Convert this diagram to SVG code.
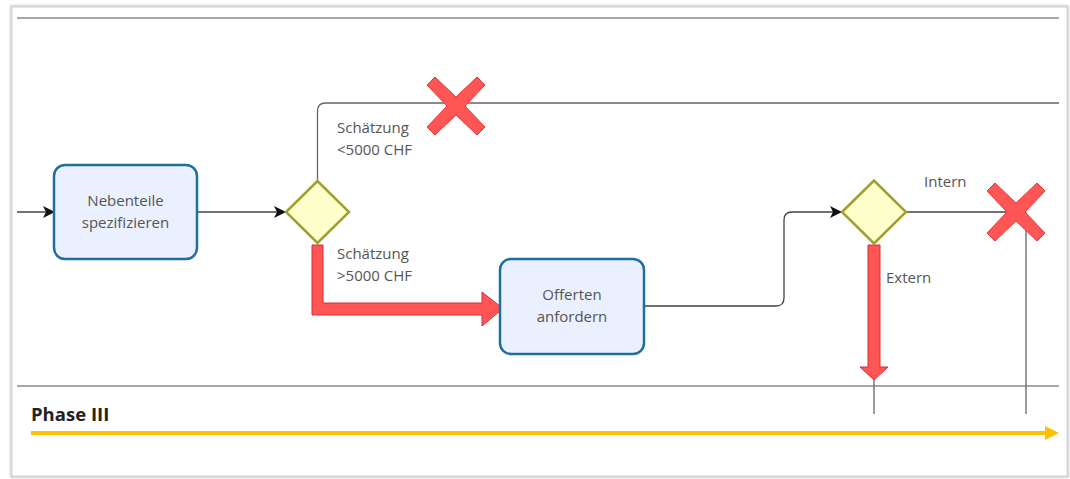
<svg xmlns="http://www.w3.org/2000/svg" width="1070" height="479" viewBox="0 0 1070 479">
  <defs>
    <style>
      .lbl { font-family: "Open Sans", "Noto Sans", "Liberation Sans", sans-serif; font-size: 15px; fill: #555; }
      .task { fill: #eaf0fd; stroke: #1f6f9e; stroke-width: 2.5; }
      .gw { fill: #ffffcc; stroke: #a0a030; stroke-width: 2.5; }
      .flow { fill: none; stroke: #444; stroke-width: 1.3; }
      .thin { fill: none; stroke: #666; stroke-width: 1.3; }
      .lane { stroke: #8a8a8a; stroke-width: 1.3; }
      .big { fill: #ff5555; stroke: #d63030; stroke-width: 1; }
      .cross { fill: #ff5555; stroke: #e03a3a; stroke-width: 1; }
    </style>
    <marker id="arr" viewBox="0 0 12 12" refX="12" refY="6" markerWidth="12" markerHeight="12" markerUnits="userSpaceOnUse" orient="auto">
      <path d="M0,0 L12,6 L0,12 L3,6 Z" fill="#111"/>
    </marker>
    <filter id="sh" x="-5%" y="-5%" width="110%" height="110%">
      <feGaussianBlur stdDeviation="1.2"/>
    </filter>
    <!-- X mark, centred on 0,0 -->
    <polygon id="xmark" points="-21,-29 0,-9 21,-29 29,-21 9,0 29,21 21,29 0,9 -21,29 -29,21 -9,0 -29,-21"/>
  </defs>

  <rect width="1070" height="479" fill="#ffffff"/>
  <!-- page frame with soft edge -->
  <rect x="11.5" y="6.5" width="1056" height="470" fill="none" stroke="#b8b8b8" stroke-width="2" filter="url(#sh)"/>
  <rect x="12" y="7" width="1055" height="469" fill="#ffffff" stroke="#d4d4d4" stroke-width="1"/>

  <!-- lane borders -->
  <g id="lane">
    <line class="lane" x1="17" y1="18" x2="1059" y2="18"/>
    <line class="lane" x1="17" y1="386" x2="1059" y2="386"/>
  </g>

  <!-- connectors -->
  <g id="connectors">
    <line class="flow" x1="17" y1="212" x2="55" y2="212" marker-end="url(#arr)"/>
    <line class="flow" x1="197" y1="212" x2="286" y2="212" marker-end="url(#arr)"/>
    <path class="thin" d="M317.5,181 V111 Q317.5,103 325.5,103 H1059"/>
    <path class="flow" d="M644,306 H776 Q784,306 784,298 V220 Q784,212 792,212 H842" marker-end="url(#arr)"/>
    <line class="flow" x1="906" y1="212" x2="1026" y2="212"/>
    <line class="thin" x1="1026" y1="212" x2="1026" y2="414"/>
    <line class="thin" x1="874" y1="378" x2="874" y2="414"/>
    <!-- highlighted paths -->
    <path class="big" d="M312,245 H323 V303 H482 V292 L503,308.5 L482,326 V315 H312 Z"/>
    <path class="big" d="M868,245 H880 V367 H888 L874,380 L860,367 H868 Z"/>
    <!-- phase timeline -->
    <line x1="31" y1="433" x2="1047" y2="433" stroke="#ffc000" stroke-width="4"/>
    <path d="M1045,426 L1059,433 L1045,440 Z" fill="#ffc000"/>
  </g>

  <!-- labels on flows -->
  <g id="flow-labels">
    <text class="lbl" x="337" y="133">Schätzung</text>
    <text class="lbl" x="337" y="155">&lt;5000 CHF</text>
    <text class="lbl" x="337" y="259">Schätzung</text>
    <text class="lbl" x="337" y="281">&gt;5000 CHF</text>
    <text class="lbl" x="924" y="187">Intern</text>
    <text class="lbl" x="886" y="283">Extern</text>
  </g>

  <g id="task-nebenteile">
    <rect class="task" x="54" y="165" width="143" height="94" rx="11"/>
    <text class="lbl" x="125.5" y="206" text-anchor="middle">Nebenteile</text>
    <text class="lbl" x="125.5" y="228" text-anchor="middle">spezifizieren</text>
  </g>

  <g id="gateway-schaetzung">
    <polygon class="gw" points="286,212 317.5,181 349,212 317.5,243"/>
  </g>

  <g id="task-offerten">
    <rect class="task" x="500" y="259" width="144" height="95" rx="11"/>
    <text class="lbl" x="572" y="300" text-anchor="middle">Offerten</text>
    <text class="lbl" x="572" y="322" text-anchor="middle">anfordern</text>
  </g>

  <g id="gateway-intern-extern">
    <polygon class="gw" points="842,212 874,180.5 906,212 874,243.5"/>
  </g>

  <g id="cross-1">
    <use href="#xmark" class="cross" transform="translate(456,106)"/>
  </g>
  <g id="cross-2">
    <use href="#xmark" class="cross" transform="translate(1016,212)"/>
  </g>

  <g id="phase">
    <text x="31" y="421" font-family="'Open Sans', 'Liberation Sans', sans-serif" font-size="18.5" font-weight="bold" fill="#222">Phase III</text>
  </g>
</svg>
